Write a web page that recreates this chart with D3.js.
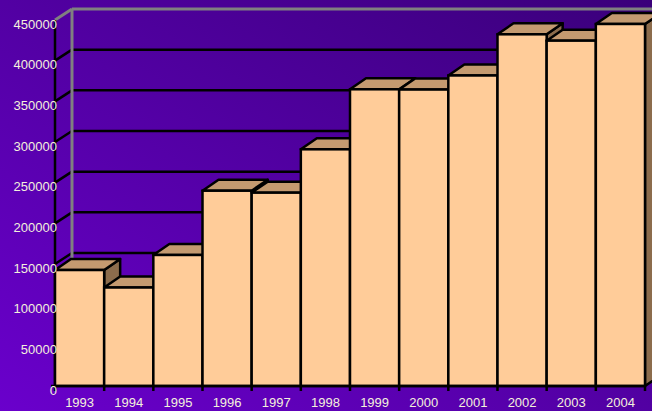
<!DOCTYPE html>
<html>
<head>
<meta charset="utf-8">
<script src="https://cdn.jsdelivr.net/npm/d3@7"></script>
<style>
  body { margin: 0; padding: 0; overflow: hidden; }
  #container svg { display: block; }
</style>
</head>
<body>
<div id="container"></div>
<script>
// chart data
let years = ["1993","1994","1995","1996","1997","1998","1999","2000","2001","2002","2003","2004"];
let values = [142600, 121100, 161100, 240100, 237700, 291000, 364800, 364500, 381800, 432400, 424600, 445100];
let yTicks = [0, 50000, 100000, 150000, 200000, 250000, 300000, 350000, 400000, 450000];

let w = 652;
let h = 411;
let dx = 17;   // depth offset of the back wall
let dy = -11;
let bdx = 16;  // depth of a bar
let bdy = -11;
let lw = 2.5;  // outline width

let viz = d3.select("#container")
    .append("svg")
    .attr("width", w)
    .attr("height", h);

// background gradient, bright violet bottom-left to dark purple top-right
let defs = viz.append("defs");
let grad = defs.append("linearGradient")
    .attr("id", "bg")
    .attr("x1", "0").attr("y1", "1")
    .attr("x2", "1").attr("y2", "0");
grad.append("stop").attr("offset", "0%").attr("stop-color", "#6a00cc");
grad.append("stop").attr("offset", "100%").attr("stop-color", "#3a007a");
viz.append("rect").attr("width", w).attr("height", h).attr("fill", "url(#bg)");

let xScale = d3.scaleBand()
    .domain(years)
    .range([55, 645])
    .paddingInner(0)
    .paddingOuter(0);

let yScale = d3.scaleLinear()
    .domain([0, 450000])
    .range([386, 20]);

// walls: gridlines on back wall and diagonals on the left wall
let wall = viz.append("g").classed("wall", true);
wall.selectAll(".grid")
    .data(yTicks)
    .enter()
    .append("line")
    .attr("x1", 55 + dx)
    .attr("x2", w)
    .attr("y1", d => yScale(d) + dy)
    .attr("y2", d => yScale(d) + dy)
    .attr("stroke", d => d == 450000 ? "#808080" : "#000")
    .attr("stroke-width", d => d == 450000 ? 3 : lw);
wall.selectAll(".diag")
    .data(yTicks)
    .enter()
    .append("line")
    .attr("x1", 55)
    .attr("x2", 55 + dx)
    .attr("y1", d => yScale(d))
    .attr("y2", d => yScale(d) + dy)
    .attr("stroke", d => d == 450000 ? "#808080" : "#000")
    .attr("stroke-width", d => d == 450000 ? 3 : lw);
// gray back corner
wall.append("line")
    .attr("x1", 55 + dx).attr("x2", 55 + dx)
    .attr("y1", yScale(450000) + dy).attr("y2", yScale(0) + dy)
    .attr("stroke", "#808080")
    .attr("stroke-width", 3);
// front value axis
wall.append("line")
    .attr("x1", 55).attr("x2", 55)
    .attr("y1", yScale(450000)).attr("y2", yScale(0))
    .attr("stroke", "#000")
    .attr("stroke-width", lw);

// bars, drawn left to right so each one covers its neighbour's side
let bars = viz.append("g").classed("bars", true);
let bw = xScale.bandwidth();
years.forEach(function(yr, i){
    let x0 = xScale(yr);
    let x1 = x0 + bw;
    let yt = yScale(values[i]);
    let yb = yScale(0);
    let g = bars.append("g").classed("datapoint", true);
    // side
    g.append("path")
        .attr("d", "M" + x1 + "," + yb + "L" + (x1 + bdx) + "," + (yb + bdy) + "L" + (x1 + bdx) + "," + (yt + bdy) + "L" + x1 + "," + yt + "Z")
        .attr("fill", "#8c6c4c")
        .attr("stroke", "#000")
        .attr("stroke-width", lw)
        .attr("stroke-linejoin", "round");
    // top
    g.append("path")
        .attr("d", "M" + x0 + "," + yt + "L" + (x0 + bdx) + "," + (yt + bdy) + "L" + (x1 + bdx) + "," + (yt + bdy) + "L" + x1 + "," + yt + "Z")
        .attr("fill", "#c49a70")
        .attr("stroke", "#000")
        .attr("stroke-width", lw)
        .attr("stroke-linejoin", "round");
    // front
    g.append("rect")
        .attr("x", x0)
        .attr("y", yt)
        .attr("width", bw)
        .attr("height", yb - yt)
        .attr("fill", "#ffcc99")
        .attr("stroke", "#000")
        .attr("stroke-width", lw);
});

// baseline and category ticks at band edges
let edges = years.map(d => xScale(d)).concat([xScale(years[years.length - 1]) + bw]);
viz.append("line")
    .attr("x1", 51).attr("x2", 645)
    .attr("y1", yScale(0)).attr("y2", yScale(0))
    .attr("stroke", "#000").attr("stroke-width", lw);
viz.selectAll(".xtick")
    .data(edges)
    .enter()
    .append("line")
    .attr("x1", d => d).attr("x2", d => d)
    .attr("y1", yScale(0)).attr("y2", yScale(0) + 5)
    .attr("stroke", "#000").attr("stroke-width", lw);

// value axis labels
let yAxis = d3.axisLeft(yScale).tickValues(yTicks).tickSize(0).tickPadding(0).tickFormat(d => d);
let yAxisGroup = viz.append("g").classed("yAxis", true)
    .attr("transform", "translate(57,4)")
    .call(yAxis);
yAxisGroup.select(".domain").remove();
yAxisGroup.selectAll("text")
    .attr("font-family", "Liberation Sans, Arial, sans-serif")
    .attr("font-size", 13)
    .attr("fill", "#f4f0dc");

// category labels
let xAxis = d3.axisBottom(xScale).tickSize(0).tickPadding(0);
let xAxisGroup = viz.append("g").classed("xAxis", true)
    .attr("transform", "translate(0," + (yScale(0) + 12) + ")")
    .call(xAxis);
xAxisGroup.select(".domain").remove();
xAxisGroup.selectAll("text")
    .attr("font-family", "Liberation Sans, Arial, sans-serif")
    .attr("font-size", 13)
    .attr("fill", "#f4f0dc");
</script>
</body>
</html>
